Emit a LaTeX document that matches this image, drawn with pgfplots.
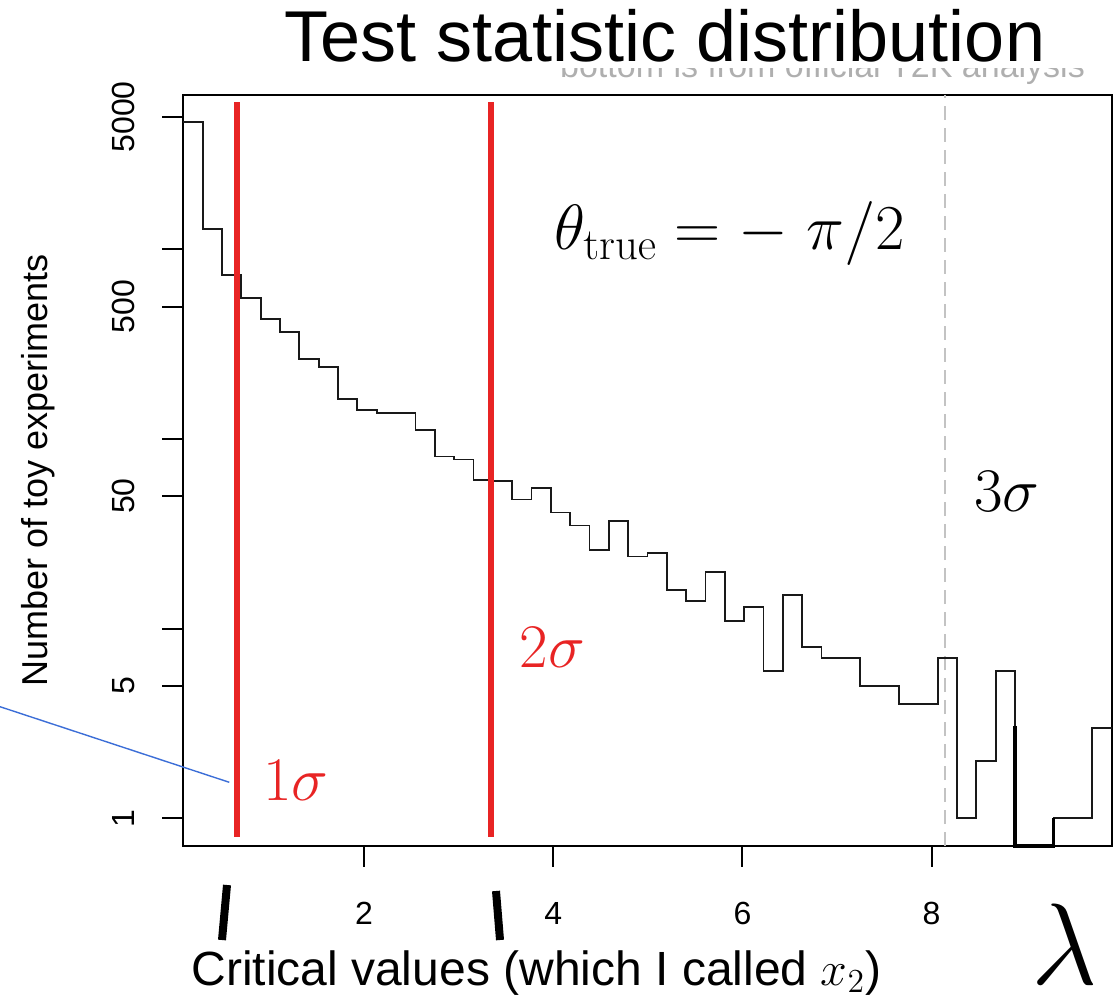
\RequirePackage{fix-cm}
\documentclass[border=0pt]{standalone}
\usepackage[no-math]{fontspec}
\usepackage{pgfplots}
\pgfplotsset{compat=1.18}
\setmainfont{Liberation Sans}
\definecolor{myred}{RGB}{232,36,36}
\definecolor{myblue}{RGB}{60,110,215}
\definecolor{dashgray}{RGB}{195,195,195}

\pgfplotstableread{
x y
0.0899 4688
0.2944 1283
0.4988 734
0.7033 553
0.9077 430
1.1122 366
1.3167 264
1.5211 241
1.7256 163
1.9300 142
2.1345 137
2.3390 137
2.5434 112
2.7479 81
2.9523 78
3.1568 61
3.3613 60
3.5657 48
3.7702 55
3.9746 41
4.1791 35
4.3836 26
4.5880 37
4.7925 24
4.9969 25
5.2014 16
5.4059 14
5.6103 20
5.8148 11
6.0192 13
6.2237 6
6.4282 15
6.6326 8
6.8371 7
7.0415 7
7.2460 5
7.4505 5
7.6549 4
7.8594 4
8.0638 7
8.2683 1
8.4728 2
8.6772 6
8.8817 0.714
9.0861 0.714
9.2906 1
9.4951 1
9.6995 3
9.9040 3
}\histdata

\begin{document}
\begin{tikzpicture}[x=1pt,y=1pt]
\useasboundingbox (0,0) rectangle (558.5,498);
% faint text partly hidden under the title
\node[anchor=base, text={rgb,255:red,175;green,175;blue,175}] at (411.25,459) {\fontsize{17}{20}\selectfont bottom is from official T2K analysis};
\fill[white] (250,464) rectangle (558.5,498);
\node[anchor=base] at (332.5,467) {\fontsize{36}{40}\selectfont Test statistic distribution};
\begin{axis}[
  at={(91.65pt,75pt)}, anchor=south west,
  scale only axis, width=464.2pt, height=375.5pt,
  xmin=0.0899, xmax=9.904,
  ymode=log, ymin=0.714, ymax=6529,
  clip=false,
  axis line style={line width=1pt},
  tick style={black, line width=1pt},
  tick align=outside, tick pos=left,
  major tick length=10.5pt,
  yminorticks=false, xminorticks=false,
  xtick={2,4,6,8}, xticklabels={2,4,6,8},
  ytick={1,5,10,50,100,500,1000,5000},
  yticklabels={1,5,,50,,500,,5000},
  /pgf/number format/assume math mode=true,
  ticklabel style={font=\fontsize{16}{16}\selectfont},
  xticklabel style={anchor=north, inner sep=0pt},
  yticklabel style={rotate=90, anchor=south, inner sep=0pt},
  xticklabel shift=17.5pt,
  yticklabel shift=13.5pt,
  xlabel={Critical values (which I called $x_2$)},
  ylabel={Number of toy experiments},
  every axis x label/.style={at={(rel axis cs:0,0)}, anchor=base west, xshift=0.5pt, yshift=-69.5pt, font=\fontsize{24}{26}\selectfont},
  every axis y label/.style={at={(rel axis cs:0,0.5)}, xshift=-72.65pt, rotate=90, anchor=center, font=\fontsize{18}{20}\selectfont},
]
\addplot[dashgray, line width=0.9pt, dash pattern=on 7pt off 4pt] coordinates {(8.142,0.714) (8.142,6529)};
\addplot[const plot mark left, black!90, line width=0.9pt] table[x=x,y=y] {\histdata};
\addplot[black, line width=1.6pt] coordinates {(8.8817,3.07) (8.8817,0.714) (9.2906,0.714) (9.2906,1)};
\addplot[myred, line width=3pt] coordinates {(0.658,0.80) (0.658,6000)};
\addplot[myred, line width=3pt] coordinates {(3.342,0.80) (3.342,6000)};
\end{axis}
% annotations
\draw[myblue, line width=0.7pt] (0,144.65) -- (114.65,106.85);
\draw[black, line width=4pt] (111,28) -- (113.5,55.5);
\draw[black, line width=4pt] (250,28) -- (248,52.5);
\node[anchor=base] at (364.75,373) {\fontsize{32}{34}\selectfont $\theta_{\mathrm{true}} = -\;\pi/2$};
\node[anchor=base, text=myred] at (148,98) {\fontsize{31}{33}\selectfont $1\sigma$};
\node[anchor=base, text=myred] at (276.25,164.5) {\fontsize{31}{33}\selectfont $2\sigma$};
\node[anchor=base] at (503.5,242) {\fontsize{31}{33}\selectfont $3\sigma$};
\node[anchor=base, inner sep=0pt] at (532.5,6) {\fontsize{58}{60}\selectfont $\lambda$};
\end{tikzpicture}
\end{document}
